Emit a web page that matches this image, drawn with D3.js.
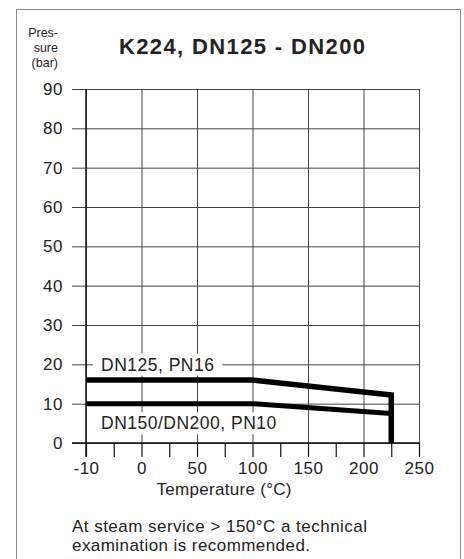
<!DOCTYPE html>
<html>
<head>
<meta charset="utf-8">
<script src="https://cdn.jsdelivr.net/npm/d3@7"></script>
<style>
  body { margin: 0; background: #fff; }
  svg text { font-family: "Liberation Sans", Arial, Helvetica, sans-serif; fill: #222; }
</style>
</head>
<body>
<svg id="chart" width="464" height="559"></svg>
<script>
(function () {
    "use strict";

    // chart values
    var xTicks = [-10, 0, 50, 100, 150, 200, 250];
    var xMinor = [-5, 25, 75, 125, 175, 225];
    var yTicks = [0, 10, 20, 30, 40, 50, 60, 70, 80, 90];

    var pn16Temp = [-10, 100, 225, 225];
    var pn16Pres = [16, 16, 12.2, 0];
    var pn10Temp = [-10, 100, 225];
    var pn10Pres = [10, 10, 7.5];

    var labels = ["DN125, PN16", "DN150/DN200, PN10"];
    var noteLines = ["At steam service > 150°C a technical", "examination is recommended."];

    var svg = d3.select("#chart");

    // frame
    svg.append("rect").attr("x", 16.5).attr("y", 9.5)
        .attr("width", 444).attr("height", 570)
        .attr("fill", "none").attr("stroke", "#8a8a8a").attr("stroke-width", 1);

    // the -10..0 step gets the same width as the 50 steps
    var x = d3.scaleLinear().domain([-10, 0, 250]).range([86, 141.5, 419]);
    var y = d3.scaleLinear().domain([0, 90]).range([443, 89]);

    // horizontal grid + y labels
    var gy = svg.append("g").attr("transform", "translate(72,0)")
        .call(d3.axisLeft(y).tickValues(yTicks).tickSize(-(x(250) - 72)).tickPadding(9).tickFormat(String));
    gy.select(".domain").remove();
    gy.selectAll("line").attr("stroke", "#444");
    gy.selectAll("text").style("font-size", "17px").style("letter-spacing", "0.5px").attr("fill", "#222");

    // vertical grid
    var gx = svg.append("g").attr("transform", "translate(0," + y(90) + ")")
        .call(d3.axisBottom(x).tickValues(xTicks).tickSize(y(0) - y(90)).tickFormat(""));
    gx.select(".domain").remove();
    gx.selectAll("line").attr("stroke", "#444");

    // x ticks below the axis
    var gt = svg.append("g").attr("transform", "translate(0," + y(0) + ")")
        .call(d3.axisBottom(x).tickValues(xTicks.concat(xMinor)).tickSize(14).tickFormat(""));
    gt.select(".domain").remove();
    gt.selectAll("line").attr("stroke", "#111").attr("stroke-width", 1.2);

    var gl = svg.append("g").attr("transform", "translate(0," + y(0) + ")")
        .call(d3.axisBottom(x).tickValues(xTicks).tickSize(14).tickPadding(5).tickFormat(String));
    gl.select(".domain").remove();
    gl.selectAll("line").remove();
    gl.selectAll("text").style("font-size", "17px").style("letter-spacing", "0.5px").attr("fill", "#222");

    // axes lines
    svg.append("line").attr("x1", 72).attr("x2", x(250)).attr("y1", y(0)).attr("y2", y(0))
        .attr("stroke", "#111").attr("stroke-width", 1.4);
    svg.append("line").attr("x1", x(-10)).attr("x2", x(-10)).attr("y1", y(90)).attr("y2", y(0) + 14)
        .attr("stroke", "#111").attr("stroke-width", 1.4);

    // curve labels with white backing
    var lab = [
        { text: labels[0], x: x(-10) + 15, y: y(20) },
        { text: labels[1], x: x(-10) + 15, y: y(0) - 20 }
    ];
    lab.forEach(function (d) {
        var g = svg.append("g");
        var r = g.append("rect").attr("fill", "#fff");
        var t = g.append("text").attr("x", d.x).attr("y", d.y).attr("dy", "0.36em")
            .style("font-size", "17.5px").style("letter-spacing", "0.5px").text(d.text);
        var b = t.node().getBBox();
        r.attr("x", b.x - 8).attr("y", b.y - 1).attr("width", b.width + 16).attr("height", b.height + 2);
    });

    var line = d3.line()
        .x(function (d) { return x(d[0]); })
        .y(function (d) { return y(d[1]); });

    svg.append("path").datum(d3.zip(pn16Temp, pn16Pres)).attr("d", line)
        .attr("fill", "none").attr("stroke", "#000").attr("stroke-width", 5.5)
        .attr("stroke-linejoin", "miter");
    svg.append("path").datum(d3.zip(pn10Temp, pn10Pres)).attr("d", line)
        .attr("fill", "none").attr("stroke", "#000").attr("stroke-width", 5)
        .attr("stroke-linejoin", "miter");

    // titles
    svg.append("text").attr("x", 242).attr("y", 54).attr("text-anchor", "middle")
        .attr("textLength", 246).attr("lengthAdjust", "spacing")
        .style("font-size", "22px").style("font-weight", "bold").text("K224, DN125 - DN200");

    ["Pres-", "sure", "(bar)"].forEach(function (s, i) {
        svg.append("text").attr("x", 58).attr("y", 37 + i * 15).attr("text-anchor", "end")
            .style("font-size", "12.5px").text(s);
    });

    svg.append("text").attr("x", 224).attr("y", 495).attr("text-anchor", "middle")
        .attr("textLength", 135).attr("lengthAdjust", "spacing")
        .style("font-size", "17px").text("Temperature (°C)");

    svg.append("text").attr("x", 72).attr("y", 532)
        .attr("textLength", 295).attr("lengthAdjust", "spacing")
        .style("font-size", "17px").text(noteLines[0]);
    svg.append("text").attr("x", 72).attr("y", 551)
        .attr("textLength", 238).attr("lengthAdjust", "spacing")
        .style("font-size", "17px").text(noteLines[1]);
}());
</script>
</body>
</html>
